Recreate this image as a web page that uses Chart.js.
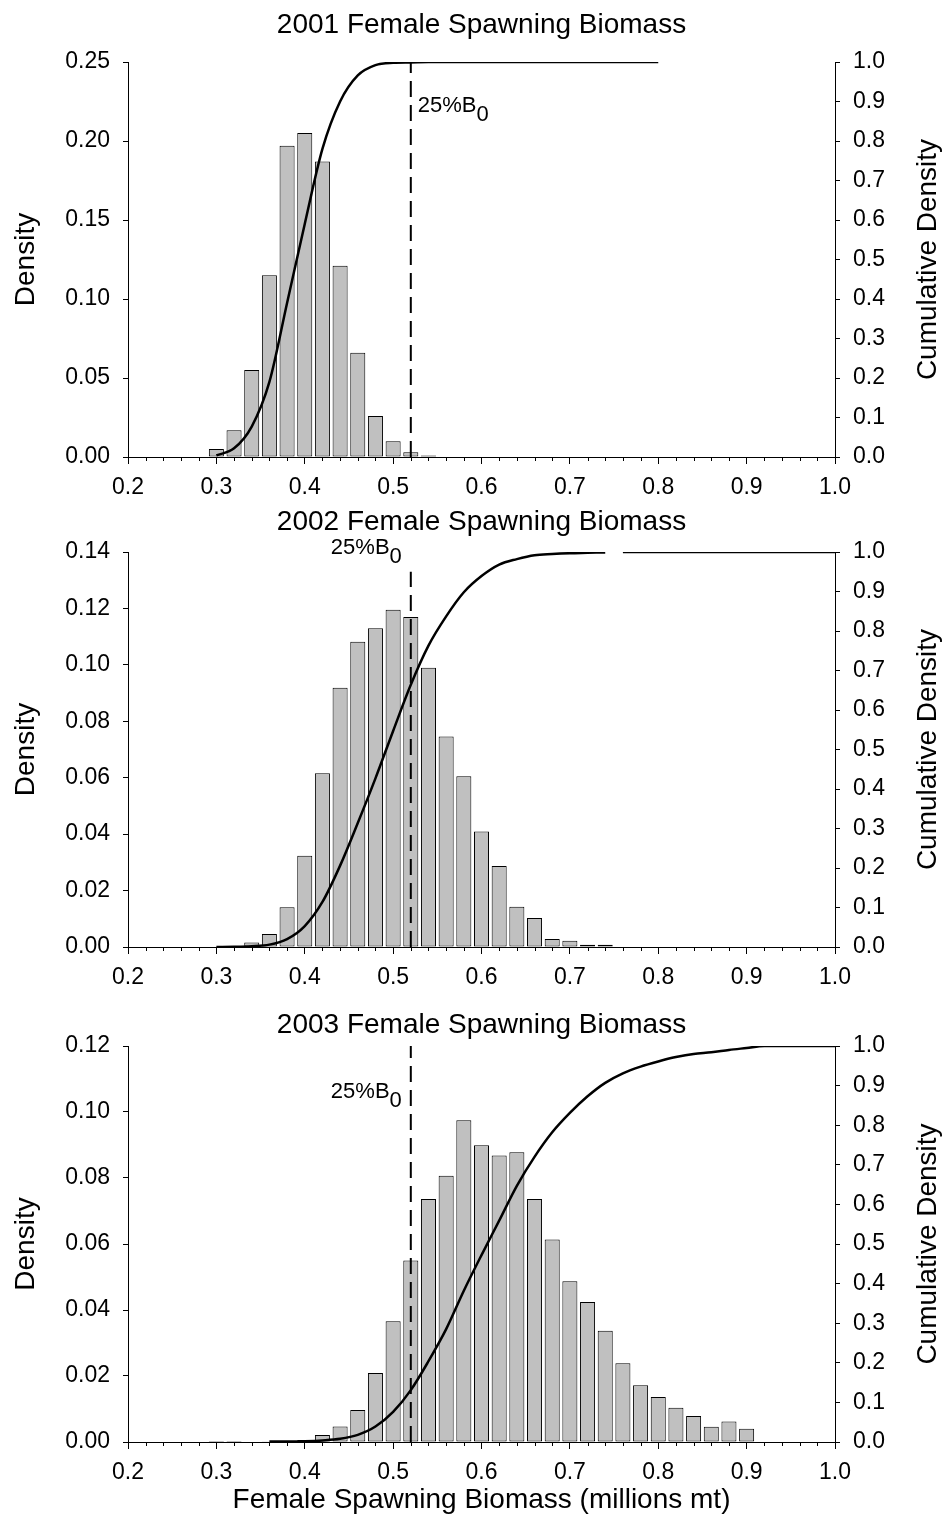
<!DOCTYPE html>
<html>
<head>
<meta charset="utf-8">
<script src="https://cdn.jsdelivr.net/npm/chart.js@4.4.1/dist/chart.umd.min.js"></script>
<style>
  body { margin: 0; background: #fff; }
  #wrap { position: relative; width: 945px; height: 1520px; background: #fff; }
  canvas { position: absolute; left: 0; }
</style>
</head>
<body>
<div id="wrap">
  <canvas id="fsb2001" width="945" height="500" style="top:0px"></canvas>
  <canvas id="fsb2002" width="945" height="500" style="top:500px"></canvas>
  <canvas id="fsb2003" width="945" height="520" style="top:1000px"></canvas>
</div>
<script>
// histogram bins (bin centres, millions mt) and density in each bin
const bins2001 = [0.30, 0.32, 0.34, 0.36, 0.38, 0.40, 0.42, 0.44, 0.46, 0.48, 0.50, 0.52, 0.54];
const dens2001 = [0.005, 0.017, 0.055, 0.115, 0.197, 0.205, 0.187, 0.121, 0.066, 0.026, 0.010, 0.003, 0.001];

const bins2002 = [0.34, 0.36, 0.38, 0.40, 0.42, 0.44, 0.46, 0.48, 0.50, 0.52, 0.54,
                  0.56, 0.58, 0.60, 0.62, 0.64, 0.66, 0.68, 0.70, 0.72, 0.74];
const dens2002 = [0.0016, 0.0046, 0.0141, 0.0323, 0.0616, 0.0919, 0.1082, 0.113, 0.1195, 0.117, 0.099,
                  0.0746, 0.0605, 0.0409, 0.0287, 0.0143, 0.0103, 0.0028, 0.0022, 0.0008, 0.0008];

const bins2003 = [0.30, 0.32, 0.34, 0.36, 0.38, 0.40, 0.42, 0.44, 0.46, 0.48, 0.50,
                  0.52, 0.54, 0.56, 0.58, 0.60, 0.62, 0.64, 0.66, 0.68, 0.70,
                  0.72, 0.74, 0.76, 0.78, 0.80, 0.82, 0.84, 0.86, 0.88, 0.90];
const dens2003 = [0.0003, 0.0003, null, 0.0002, 0.0003, 0.0006, 0.0021, 0.0047, 0.0097, 0.0209, 0.0366,
                  0.055, 0.0736, 0.0807, 0.0975, 0.0899, 0.0868, 0.0878, 0.0736, 0.0614, 0.0487,
                  0.0424, 0.0337, 0.0239, 0.0172, 0.0136, 0.0104, 0.0079, 0.0046, 0.0062, 0.004];

// cumulative density curves (right axis)
const cumX2001 = [0.30, 0.32, 0.34, 0.36, 0.38, 0.40, 0.42, 0.44, 0.46, 0.48, 0.50, 0.52, 0.54, 0.80];
const cum2001  = [0.004, 0.022, 0.077, 0.19, 0.39, 0.59, 0.78, 0.90, 0.966, 0.992, 0.998, 0.999, 1.0, 1.0];

const cumX2002 = [0.30, 0.32, 0.34, 0.36, 0.38, 0.40, 0.42, 0.44, 0.46, 0.48, 0.50, 0.52, 0.54,
                  0.56, 0.58, 0.60, 0.62, 0.64, 0.66, 0.68, 0.70, 0.72, 0.74, 0.75, 0.76, 1.0];
const cum2002  = [0.0, 0.0005, 0.002, 0.006, 0.02, 0.053, 0.114, 0.206, 0.314, 0.427, 0.547, 0.664, 0.763,
                  0.837, 0.898, 0.939, 0.968, 0.982, 0.992, 0.995, 0.997, 0.998, 0.999, null, 1.0, 1.0];

const cumX2003 = [0.36, 0.38, 0.40, 0.42, 0.44, 0.46, 0.48, 0.50, 0.52, 0.54, 0.56, 0.58, 0.60, 0.62, 0.64,
                  0.66, 0.68, 0.70, 0.72, 0.74, 0.76, 0.78, 0.80, 0.82, 0.84, 0.86, 0.88, 0.90, 0.92, 1.0];
const cum2003  = [0.001, 0.0013, 0.002, 0.004, 0.008, 0.018, 0.039, 0.076, 0.131, 0.204, 0.285, 0.382, 0.472, 0.559, 0.647,
                  0.72, 0.782, 0.831, 0.873, 0.907, 0.931, 0.948, 0.961, 0.972, 0.98, 0.984, 0.99, 0.995, 1.0, 1.0];

// 25% of B0 reference line
const b0Line = 0.52;

const FONT = "'Liberation Sans', Arial, sans-serif";
Chart.defaults.font.family = FONT;
Chart.defaults.color = '#000';

// titles, rotated axis titles, the 25%B0 label and the small x ticks
const panelText = {
  id: 'panelText',
  afterDraw(chart, args, opts) {
    const ctx = chart.ctx;
    const a = chart.chartArea;
    const xs = chart.scales.x;
    const midX = (a.left + a.right) / 2;
    const midY = (a.top + a.bottom) / 2;
    ctx.save();
    ctx.fillStyle = '#000';
    ctx.strokeStyle = '#000';
    ctx.textAlign = 'center';
    ctx.textBaseline = 'middle';
    ctx.font = '28px ' + FONT;
    ctx.fillText(opts.title, midX, opts.titleY);
    if (opts.xTitle) ctx.fillText(opts.xTitle, midX, opts.xTitleY);

    ctx.save();
    ctx.translate(26, midY);
    ctx.rotate(-Math.PI / 2);
    ctx.fillText('Density', 0, 0);
    ctx.restore();
    ctx.save();
    ctx.translate(928, midY);
    ctx.rotate(-Math.PI / 2);
    ctx.fillText('Cumulative Density', 0, 0);
    ctx.restore();

    // 25%B0 with subscript
    ctx.font = '22px ' + FONT;
    ctx.textAlign = 'left';
    const lx = xs.getPixelForValue(b0Line);
    const ly = chart.scales.y.getPixelForValue(opts.b0LabelAt);
    const w1 = ctx.measureText('25%B').width;
    const w2 = ctx.measureText('0').width;
    const x0 = opts.b0Side === 'right' ? lx + 7 : lx - 9 - w1 - w2;
    ctx.fillText('25%B', x0, ly);
    ctx.fillText('0', x0 + w1, ly + 9);

    // minor ticks every 0.02
    ctx.lineWidth = 1;
    ctx.beginPath();
    for (let k = 11; k < 50; k++) {
      if (k % 5 === 0) continue;
      const px = Math.round(xs.getPixelForValue(k * 0.02)) + 0.5;
      ctx.moveTo(px, a.bottom);
      ctx.lineTo(px, a.bottom + 4);
    }
    ctx.stroke();
    ctx.restore();
  }
};

function makePanel(id, bins, dens, cumX, cum, p) {
  const ctx = document.getElementById(id).getContext('2d');
  return new Chart(ctx, {
    type: 'bar',
    data: {
      datasets: [
        {
          type: 'line',
          yAxisID: 'y2',
          data: cumX.map((x, i) => ({ x: x, y: cum[i] })),
          borderColor: '#000',
          borderWidth: 2.5,
          pointRadius: 0,
          cubicInterpolationMode: 'monotone',
          spanGaps: false
        },
        {
          type: 'line',
          yAxisID: 'y',
          data: [{ x: b0Line, y: 0 }, { x: b0Line, y: p.dashTop }],
          borderColor: '#000',
          borderWidth: 2,
          borderDash: [16, 8],
          pointRadius: 0
        },
        {
          yAxisID: 'y',
          data: bins.map((x, i) => ({ x: x, y: dens[i] })),
          backgroundColor: '#c0c0c0',
          borderColor: '#000',
          borderWidth: 1,
          borderSkipped: false,
          barPercentage: 1,
          categoryPercentage: 0.85
        }
      ]
    },
    options: {
      responsive: false,
      animation: false,
      devicePixelRatio: 1,
      layout: { padding: { top: p.top, left: 0, right: 0, bottom: 0 } },
      plugins: {
        legend: { display: false },
        tooltip: { enabled: false },
        title: { display: false },
        panelText: p
      },
      scales: {
        x: {
          type: 'linear',
          min: 0.2,
          max: 1.0,
          offset: false,
          grid: { offset: false, drawOnChartArea: false, tickLength: 7, color: '#000' },
          border: { color: '#000', width: 1 },
          ticks: {
            stepSize: 0.1,
            padding: 10,
            font: { size: 23 },
            callback: v => v.toFixed(1)
          },
          afterFit: s => { s.height = p.xHeight; }
        },
        y: {
          position: 'left',
          min: 0,
          max: p.yMax,
          grid: { drawOnChartArea: false, tickLength: 5, color: '#000' },
          border: { color: '#000', width: 1 },
          ticks: {
            stepSize: p.yStep,
            padding: 13,
            font: { size: 23 },
            callback: v => v.toFixed(2)
          },
          afterFit: s => { s.width = 128; }
        },
        y2: {
          position: 'right',
          min: 0,
          max: 1,
          grid: { drawOnChartArea: false, tickLength: 5, color: '#000' },
          border: { color: '#000', width: 1 },
          ticks: {
            stepSize: 0.1,
            padding: 13,
            font: { size: 23 },
            callback: v => v.toFixed(1)
          },
          afterFit: s => { s.width = 110; }
        }
      }
    },
    plugins: [panelText]
  });
}

makePanel('fsb2001', bins2001, dens2001, cumX2001, cum2001, {
  title: '2001 Female Spawning Biomass', titleY: 25,
  yMax: 0.25, yStep: 0.05, top: 62, xHeight: 43,
  dashTop: 0.25, b0Side: 'right', b0LabelAt: 0.222
});

makePanel('fsb2002', bins2002, dens2002, cumX2002, cum2002, {
  title: '2002 Female Spawning Biomass', titleY: 22,
  yMax: 0.14, yStep: 0.02, top: 52, xHeight: 53,
  dashTop: 0.133, b0Side: 'left', b0LabelAt: 0.1415
});

makePanel('fsb2003', bins2003, dens2003, cumX2003, cum2003, {
  title: '2003 Female Spawning Biomass', titleY: 25,
  yMax: 0.12, yStep: 0.02, top: 46, xHeight: 78,
  dashTop: 0.12, b0Side: 'left', b0LabelAt: 0.106,
  xTitle: 'Female Spawning Biomass (millions mt)', xTitleY: 500
});
</script>
</body>
</html>
